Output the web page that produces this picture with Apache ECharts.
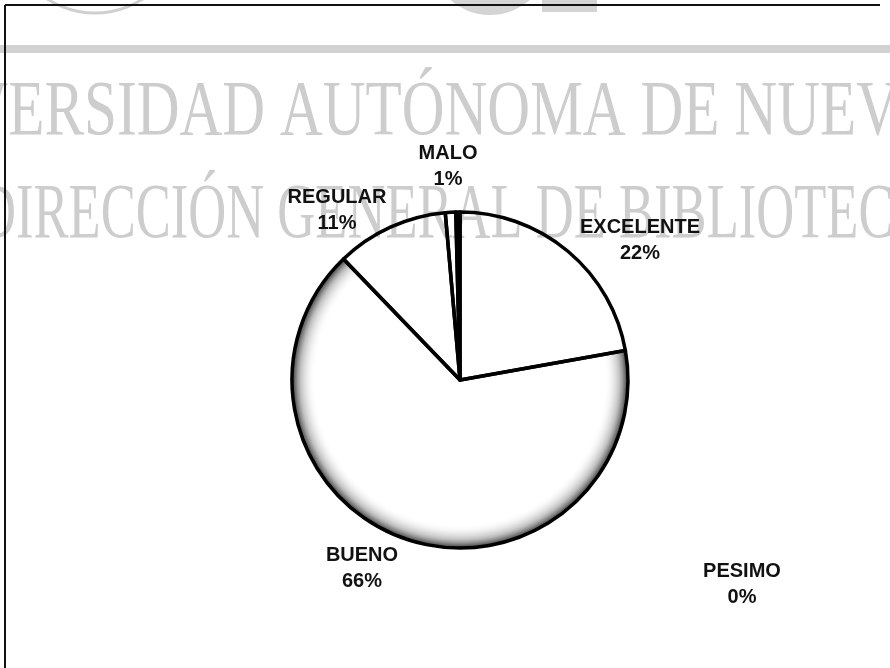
<!DOCTYPE html>
<html>
<head>
<meta charset="utf-8">
<title>Pie</title>
<script src="https://cdn.jsdelivr.net/npm/echarts@6/dist/echarts.min.js"></script>
<style>
  html, body { margin: 0; padding: 0; background: #fff; }
  #chart { width: 890px; height: 668px; }
</style>
</head>
<body>
<div id="chart"></div>
<script>
// categorias y porcentajes
var categories = ['EXCELENTE', 'BUENO', 'REGULAR', 'MALO', 'PESIMO'];
var values = [22.2, 65.6, 10.8, 1.0, 0.4];
// donde queda cada etiqueta (centro del texto)
var labelPos = [[640, 240], [362, 568], [337, 210], [448, 166], [742, 584]];

var watermarkLines = ['UNIVERSIDAD AUTÓNOMA DE NUEVO LEÓN', 'DIRECCIÓN GENERAL DE BIBLIOTECAS'];

var chart = echarts.init(document.getElementById('chart'));

var shade = {
    type: 'radial', x: 460, y: 380, r: 168, global: true,
    colorStops: [
        {offset: 0, color: 'rgba(255,255,255,0)'},
        {offset: 0.86, color: 'rgba(255,255,255,0)'},
        {offset: 0.95, color: 'rgba(130,130,130,0.5)'},
        {offset: 1, color: 'rgba(40,40,40,0.95)'}
    ]
};
var fills = ['rgba(255,255,255,0)', shade, 'rgba(255,255,255,0)', 'rgba(255,255,255,0)', '#000'];

var option = {
    animation: false,
    backgroundColor: '#fff',
    graphic: [
        // logo y marca de agua del escaneo
        {type: 'circle', z: 0, shape: {cx: 95, cy: -75, r: 88}, style: {fill: 'none', stroke: '#cfcfcf', lineWidth: 3}},
        {type: 'circle', z: 0, shape: {cx: 490, cy: -45, r: 60}, style: {fill: '#d4d4d4'}},
        {type: 'rect', z: 0, shape: {x: 542, y: 0, width: 55, height: 12}, style: {fill: '#d4d4d4'}},
        {type: 'rect', z: 0, shape: {x: 0, y: 45, width: 890, height: 8}, style: {fill: '#d2d2d2'}},
        {type: 'text', z: 0, x: -140, y: 114, scaleX: 0.76,
            style: {text: watermarkLines[0], font: '78px "Liberation Serif"', fill: '#cdcdcd', textAlign: 'left', textVerticalAlign: 'middle'}},
        {type: 'text', z: 0, x: -22, y: 217, scaleX: 0.674,
            style: {text: watermarkLines[1], font: '78px "Liberation Serif"', fill: '#cdcdcd', textAlign: 'left', textVerticalAlign: 'middle'}},
        // marco
        {type: 'line', z: 1, shape: {x1: 5, y1: 5, x2: 880, y2: 5}, style: {stroke: '#111', lineWidth: 2}},
        {type: 'line', z: 1, shape: {x1: 5, y1: 5, x2: 5, y2: 668}, style: {stroke: '#111', lineWidth: 2}}
    ],
    series: [
        {
            type: 'pie',
            z: 5,
            center: [460, 380],
            radius: 168,
            startAngle: 90,
            clockwise: true,
            avoidLabelOverlap: false,
            data: categories.map(function (name, i) {
                return {name: name, value: values[i], itemStyle: {color: fills[i]}};
            }),
            itemStyle: {borderColor: '#000', borderWidth: 3.5},
            label: {
                show: true,
                formatter: function (p) {
                    return p.name + '\n' + Math.round(p.percent) + '%';
                },
                fontFamily: 'Liberation Sans',
                fontWeight: 'bold',
                fontSize: 20,
                lineHeight: 26,
                color: '#111',
                align: 'center'
            },
            labelLine: {show: false},
            labelLayout: function (params) {
                var pos = labelPos[params.dataIndex];
                return {x: pos[0], y: pos[1], align: 'center', verticalAlign: 'middle'};
            },
            emphasis: {disabled: true}
        }
    ]
};
chart.setOption(option);
</script>
</body>
</html>
